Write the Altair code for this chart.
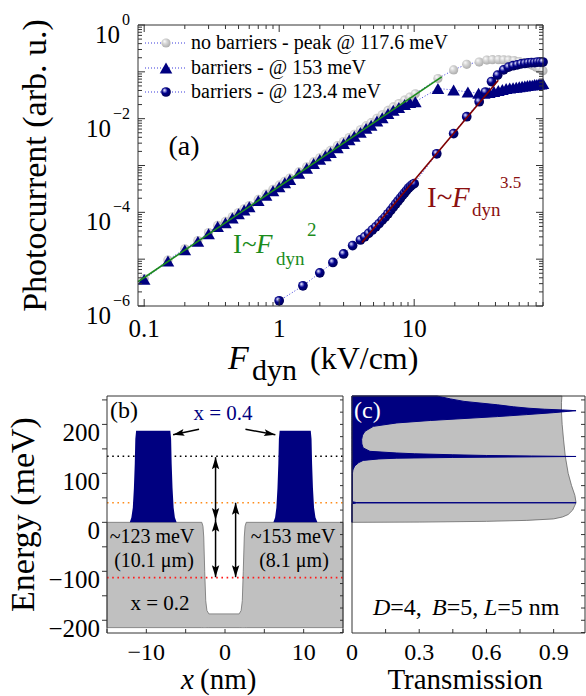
import math
import altair as alt
import pandas as pd

# ---------------- panel (a): photocurrent vs dynamic field ----------------
F_nobar = [0.1, 0.15, 0.2, 0.25, 0.3, 0.35, 0.4, 0.45, 0.5, 0.55, 0.6, 0.7, 0.8, 0.9, 1.0, 1.1, 1.2, 1.4, 1.6, 1.8,
           2.0, 2.2, 2.4, 2.7, 3.0, 3.3, 3.6, 4.0, 4.4, 4.8, 5.3, 5.8, 6.4, 7.0, 7.7, 8.5, 9.3, 10.2,
           15, 19.6, 24.5, 30.3, 34.5, 38, 42, 46, 50, 55, 60, 65, 70, 75, 80, 85, 90]
I_nobar = [3.85e-6, 9.6e-6, 1.67e-5, 2.5e-5, 3.7e-5, 5.25e-5, 6.4e-5, 8.0e-5, 9.9e-5, 1.19e-4, 1.40e-4, 1.89e-4,
           2.45e-4, 3.1e-4, 3.8e-4, 4.6e-4, 5.4e-4, 7.3e-4, 9.4e-4, 1.19e-3, 1.46e-3, 1.76e-3, 2.1e-3, 2.65e-3,
           3.25e-3, 3.95e-3, 4.65e-3, 5.8e-3, 7.0e-3, 8.2e-3, 1.02e-2, 1.21e-2, 1.5e-2, 1.78e-2, 2.1e-2, 2.5e-2,
           2.9e-2, 3.4e-2,
           0.072, 0.11, 0.145, 0.162, 0.178, 0.182, 0.182, 0.18, 0.178, 0.174, 0.166, 0.158, 0.148, 0.138, 0.126,
           0.115, 0.105]

F_b153 = [0.1, 0.15, 0.2, 0.25, 0.3, 0.35, 0.4, 0.45, 0.5, 0.55, 0.6, 0.7, 0.8, 0.9, 1.0, 1.1, 1.2, 1.4, 1.6, 1.8,
          2.0, 2.2, 2.4, 2.7, 3.0, 3.3, 3.6, 4.0, 4.4, 4.8, 5.3, 5.8, 6.4, 7.0, 7.7, 8.5, 9.3, 10.2,
          15, 19.6, 25, 30, 33, 36, 39, 42, 45, 48, 51, 54, 57, 60, 63, 66, 69, 72, 75, 78, 81, 84, 87, 90]
I_b153 = [3.7e-6, 9.1e-6, 1.58e-5, 2.4e-5, 3.5e-5, 5.0e-5, 6.0e-5, 7.6e-5, 9.3e-5, 1.12e-4, 1.32e-4, 1.78e-4, 2.3e-4,
          2.9e-4, 3.5e-4, 4.3e-4, 5.0e-4, 6.8e-4, 8.7e-4, 1.10e-3, 1.35e-3, 1.62e-3, 1.9e-3, 2.4e-3, 2.95e-3, 3.55e-3,
          4.2e-3, 5.1e-3, 6.2e-3, 7.2e-3, 8.9e-3, 1.05e-2, 1.29e-2, 1.51e-2, 1.74e-2, 2.0e-2, 2.2e-2, 2.3e-2,
          4.4e-2, 4.1e-2, 3.7e-2, 3.5e-2, 3.5e-2, 3.6e-2, 3.8e-2, 4.0e-2, 4.2e-2, 4.4e-2, 4.5e-2, 4.6e-2, 4.7e-2,
          4.8e-2, 4.9e-2, 5.0e-2, 5.1e-2, 5.2e-2, 5.2e-2, 5.4e-2, 5.4e-2, 5.5e-2, 5.5e-2, 5.6e-2]

F_b123 = [1.0, 1.5, 2.0, 2.5, 3.0, 3.5, 4.0, 4.3, 4.6, 4.9, 5.2, 5.5, 5.8, 6.1, 6.4, 6.7, 7.0, 7.3, 7.6, 7.9, 8.2,
          8.5, 8.8, 9.1, 9.4, 9.7, 10.0, 14.7, 19.6, 24.5, 30.3, 33.7, 37.4, 41.5, 46, 50, 54, 58, 62, 66, 70, 74,
          78, 82, 86, 90]
I_b123 = [1.29e-6, 2.7e-6, 5.1e-6, 8.5e-6, 1.29e-5, 1.95e-5, 2.57e-5, 3.0e-5, 3.55e-5, 4.2e-5, 4.9e-5, 5.75e-5,
          6.8e-5, 7.9e-5, 9.3e-5, 1.10e-4, 1.29e-4, 1.51e-4, 1.74e-4, 2.0e-4, 2.3e-4, 2.6e-4, 2.95e-4, 3.3e-4,
          3.6e-4, 3.9e-4, 4.1e-4, 1.78e-3, 4.8e-3, 1.10e-2, 2.3e-2, 3.7e-2, 6.2e-2, 8.5e-2, 0.110, 0.126, 0.135,
          0.141, 0.148, 0.151, 0.155, 0.158, 0.158, 0.162, 0.162, 0.162]

fit2_F = [0.09, 16.0]
fit2_I = [3.3e-6, 7.8e-2]
fit35_F = [4.1, 42.0]
fit35_I = [2.28e-5, 6.6e-2]

legend_labels = ["no barriers - peak @ 117.6 meV", "barriers - @ 153 meV", "barriers - @ 123.4 meV"]

xa_major = [0.1, 1, 10]
xa_labels = ["0.1", "1", "10"]
ya_major = [1e-6, 1e-5, 1e-4, 1e-3, 1e-2, 1e-1, 1]
ya_label_vals = [1, 1e-2, 1e-4, 1e-6]
ya_label_exp = ["0", "\u22122", "\u22124", "\u22126"]

# ---------------- panel (b): band profile ----------------
band_x = [-15, -2.95, -2.8, -2.7, -2.58, -2.45, -2.3, -2.05, 1.8, 2.05, 2.2, 2.32, 2.45, 2.55, 2.7, 15]
band_E = [0, 0, -8, -30, -100, -160, -180, -187, -187, -180, -160, -100, -30, -8, 0, 0]
band_floor = -215
barL_x = [-12.1, -11.9, -11.72, -11.58, -11.47, -11.4, -11.3, -6.95, -6.85, -6.78, -6.67, -6.53, -6.37, -6.15]
barR_x = [6.15, 6.37, 6.53, 6.67, 6.78, 6.85, 6.95, 10.9, 11.0, 11.07, 11.18, 11.32, 11.5, 11.75]
bar_E = [0, 10, 30, 70, 120, 170, 187, 187, 170, 120, 70, 30, 10, 0]
level_E = [135, 40, -113]
level_colors = ["#000000", "#ff8c1a", "#ff1a1a"]
varr_x = [-1.2, -1.2, 1.35]
varr_top = [133, 5, 40]
varr_bot = [5, -112, -112]
sarr_tail_x = [-3.3, 2.6]
sarr_tail_E = [190, 190]
sarr_tip_x = [-6.6, 6.4]
sarr_tip_E = [179, 179]
yb_vals = [-200, -100, 0, 100, 200]
yb_labels = ["\u2212200", "\u2212100", "0", "100", "200"]
xb_vals = [-10, 0, 10]
xb_labels = ["\u221210", "0", "10"]

# ---------------- panel (c): transmission ----------------
E_nobar = [0, 0.5, 2, 4, 7, 11, 16, 25, 40, 55, 75, 100, 135, 170, 200, 225, 245, 258]
T_nobar = [0, 0.3, 0.6, 0.78, 0.9, 0.94, 0.965, 0.985, 1.0, 0.995, 0.98, 0.965, 0.952, 0.944, 0.938, 0.935, 0.935, 0.937]
E_bar = [0, 38, 39.6, 40, 40.4, 42, 100, 107, 115, 122, 126.5, 129.5, 131, 132.5, 133.7, 134.5, 135.5, 136.5, 138,
         140, 141.6, 145, 152, 160, 169, 178, 186, 196, 203, 208, 212, 216, 220, 224, 226.5, 228, 229.5, 231, 233,
         236, 240, 247, 252, 258]
T_bar = [0, 0, 0.02, 1.0, 0.02, 0.002, 0.002, 0.004, 0.012, 0.03, 0.05, 0.12, 0.2, 0.45, 0.8, 1.0, 0.8, 0.6, 0.45,
         0.28, 0.2, 0.08, 0.05, 0.044, 0.043, 0.047, 0.058, 0.095, 0.2, 0.35, 0.5, 0.65, 0.78, 0.9, 0.96, 1.0, 0.94,
         0.86, 0.79, 0.72, 0.65, 0.5, 0.44, 0.38]
xc_vals = [0, 0.3, 0.6, 0.9]
xc_labels = ["0", "0.3", "0.6", "0.9"]

# ---------------- layout / style ----------------
A = dict(x0=138, x1=543, y0=25, y1=306)
B = dict(x0=107, x1=343, y0=396, y1=633)
C = dict(x0=352, x1=585, y0=396, y1=633)
XB_DOM = [-15, 15]
E_DOM = [-226, 258]
XC_DOM = [0, 1.04]
FONT = "Liberation Serif, Times New Roman, Tinos, DejaVu Serif, serif"
NAVY = "#000080"
GRAY = "#c0c0c0"
AXC = "#333333"
GREEN = "#1c8c1c"
DRED = "#8b1010"
DOT = "#3a3adc"
BOTTOM_LABEL_Y = 653
BOTTOM_LABEL_SIZE = 24
BOTTOM_TITLE_Y = 689
BOTTOM_TITLE_SIZE = 29

xa = alt.Scale(type="log", domain=[0.09, 90], range=[A["x0"], A["x1"]], nice=False)
ya = alt.Scale(type="log", domain=[1e-6, 1], range=[A["y1"], A["y0"]], nice=False)
xb = alt.Scale(domain=XB_DOM, range=[B["x0"], B["x1"]], nice=False, zero=False)
yb = alt.Scale(domain=E_DOM, range=[B["y1"], B["y0"]], nice=False, zero=False)
xc = alt.Scale(domain=XC_DOM, range=[C["x0"], C["x1"]], nice=False, zero=False)
yc = alt.Scale(domain=E_DOM, range=[C["y1"], C["y0"]], nice=False, zero=False)

ONE = pd.DataFrame({"k": [0]})

grad_gray = {"gradient": "radial", "x1": 0.33, "y1": 0.3, "r1": 0, "x2": 0.45, "y2": 0.45, "r2": 0.62,
             "stops": [{"offset": 0, "color": "#ffffff"}, {"offset": 0.35, "color": "#dadada"},
                       {"offset": 1, "color": "#a6a6a6"}]}
grad_navy = {"gradient": "radial", "x1": 0.33, "y1": 0.3, "r1": 0, "x2": 0.45, "y2": 0.45, "r2": 0.62,
             "stops": [{"offset": 0, "color": "#ffffff"}, {"offset": 0.18, "color": "#9a9ae0"},
                       {"offset": 0.45, "color": "#00008c"}, {"offset": 1, "color": "#00004a"}]}

ARROW_UP = "M0,0L0.4,1.3L0,1.05L-0.4,1.3Z"
ARROW_DN = "M0,0L0.4,-1.3L0,-1.05L-0.4,-1.3Z"


def txt(s, x, y, size=20, color="black", align="left", baseline="alphabetic", style="normal", angle=None):
    kw = dict(text=s, font=FONT, fontSize=size, color=color, align=align, baseline=baseline, fontStyle=style)
    if angle is not None:
        kw["angle"] = angle
    return alt.Chart(ONE).mark_text(**kw).encode(x=alt.value(x), y=alt.value(y))


def border(P):
    return alt.Chart(ONE).mark_rect(color="white", fillOpacity=0, stroke=AXC, strokeWidth=1).encode(
        x=alt.value(P["x0"]), x2=alt.value(P["x1"]), y=alt.value(P["y0"]), y2=alt.value(P["y1"]))


def ticks_x(vals, scale, y_from, y_to):
    return alt.Chart(pd.DataFrame({"v": vals})).mark_rule(color=AXC, strokeWidth=1).encode(
        x=alt.X("v:Q", scale=scale, axis=None), y=alt.value(y_from), y2=alt.value(y_to))


def ticks_y(vals, scale, x_from, x_to):
    return alt.Chart(pd.DataFrame({"v": vals})).mark_rule(color=AXC, strokeWidth=1).encode(
        y=alt.Y("v:Q", scale=scale, axis=None), x=alt.value(x_from), x2=alt.value(x_to))


layers = []

# ======== panel (a) ========
df_g = pd.DataFrame({"F": F_nobar, "I": I_nobar})
df_t = pd.DataFrame({"F": F_b153, "I": I_b153})
df_n = pd.DataFrame({"F": F_b123, "I": I_b123})
XA = alt.X("F:Q", scale=xa, axis=None)
YA = alt.Y("I:Q", scale=ya, axis=None)
for d in (df_g, df_t, df_n):
    layers.append(alt.Chart(d).mark_line(color=DOT, strokeWidth=1, strokeDash=[1, 2]).encode(x=XA, y=YA))
layers.append(alt.Chart(df_g).mark_point(shape="circle", filled=True, size=85, opacity=1, fill=grad_gray,
                                         strokeWidth=0).encode(x=XA, y=YA))
layers.append(alt.Chart(df_t).mark_point(shape="triangle-up", filled=True, size=160, opacity=1, color=NAVY,
                                         strokeWidth=0).encode(x=XA, y=YA))
layers.append(alt.Chart(df_n).mark_point(shape="circle", filled=True, size=95, opacity=1, fill=grad_navy,
                                         strokeWidth=0).encode(x=XA, y=YA))
layers.append(alt.Chart(pd.DataFrame({"F": fit2_F, "I": fit2_I})).mark_line(color=GREEN, strokeWidth=1.6)
              .encode(x=XA, y=YA))
layers.append(alt.Chart(pd.DataFrame({"F": fit35_F, "I": fit35_I})).mark_line(color="#800000", strokeWidth=1.6)
              .encode(x=XA, y=YA))

# legend (a)
leg_y = [43, 68, 92]
for i, lab in enumerate(legend_labels):
    layers.append(alt.Chart(ONE).mark_rule(color=DOT, strokeWidth=1, strokeDash=[1, 2]).encode(
        x=alt.value(145), x2=alt.value(187), y=alt.value(leg_y[i])))
    if i == 0:
        sym = alt.Chart(ONE).mark_point(shape="circle", filled=True, size=85, opacity=1, fill=grad_gray,
                                        strokeWidth=0)
    elif i == 1:
        sym = alt.Chart(ONE).mark_point(shape="triangle-up", filled=True, size=160, opacity=1, color=NAVY,
                                        strokeWidth=0)
    else:
        sym = alt.Chart(ONE).mark_point(shape="circle", filled=True, size=95, opacity=1, fill=grad_navy,
                                        strokeWidth=0)
    layers.append(sym.encode(x=alt.value(166), y=alt.value(leg_y[i])))
    layers.append(txt(lab, 191, leg_y[i], size=20, baseline="middle"))

layers.append(txt("(a)", 184, 147, size=28, align="center", baseline="middle"))

# annotations
layers.append(txt("I~", 233, 253, size=27, color=GREEN))
layers.append(txt("F", 256, 253, size=27, color=GREEN, style="italic"))
layers.append(txt("dyn", 276, 265, size=19, color=GREEN))
layers.append(txt("2", 307, 236, size=19, color=GREEN))
layers.append(txt("I~", 427, 207, size=29, color=DRED))
layers.append(txt("F", 452, 207, size=29, color=DRED, style="italic"))
layers.append(txt("dyn", 472, 216, size=19, color=DRED))
layers.append(txt("3.5", 500, 188, size=17, color=DRED))

# axes (a)
xa_minor = [m * 10.0 ** k for k in (-1, 0, 1) for m in range(2, 10)]
ya_minor = [m * 10.0 ** k for k in range(-6, 0) for m in range(2, 10)]
layers += [
    ticks_x(xa_major, xa, A["y1"], A["y1"] - 7), ticks_x(xa_minor, xa, A["y1"], A["y1"] - 4),
    ticks_x(xa_major, xa, A["y0"], A["y0"] + 7), ticks_x(xa_minor, xa, A["y0"], A["y0"] + 4),
    ticks_y(ya_major, ya, A["x0"], A["x0"] + 7), ticks_y(ya_minor, ya, A["x0"], A["x0"] + 4),
    ticks_y(ya_major, ya, A["x1"], A["x1"] - 7), ticks_y(ya_minor, ya, A["x1"], A["x1"] - 4),
    border(A),
]
layers.append(alt.Chart(pd.DataFrame({"v": xa_major, "t": xa_labels})).mark_text(
    font=FONT, fontSize=25, align="center", baseline="alphabetic").encode(
    x=alt.X("v:Q", scale=xa, axis=None), y=alt.value(337), text="t:N"))
df_yl = pd.DataFrame({"v": ya_label_vals, "e": ya_label_exp})
layers.append(alt.Chart(df_yl.iloc[:1]).mark_text(text="10", font=FONT, fontSize=25, align="right", dy=10)
              .encode(y=alt.Y("v:Q", scale=ya, axis=None), x=alt.value(120)))
layers.append(alt.Chart(df_yl.iloc[1:]).mark_text(text="10", font=FONT, fontSize=25, align="right", dy=10)
              .encode(y=alt.Y("v:Q", scale=ya, axis=None), x=alt.value(111)))
layers.append(alt.Chart(df_yl).mark_text(font=FONT, fontSize=16, align="right", dy=-5)
              .encode(y=alt.Y("v:Q", scale=ya, axis=None), x=alt.value(130), text="e:N"))
layers.append(txt("Photocurrent (arb. u.)", 36, (A["y0"] + A["y1"]) / 2, size=34, align="center",
                  baseline="middle", angle=270))
layers.append(txt("F", 228, 369, size=34, style="italic"))
layers.append(txt("dyn", 252, 380, size=30))
layers.append(txt("(kV/cm)", 310, 369, size=32))

# ======== panel (b) ========
XBX = alt.X("x:Q", scale=xb, axis=None)
layers.append(alt.Chart(pd.DataFrame({"x": band_x, "E": band_E, "f": [band_floor] * len(band_x)}))
              .mark_area(color=GRAY, orient="vertical", stroke="#707070", strokeWidth=0.8, opacity=1)
              .encode(x=XBX, y=alt.Y("E:Q", scale=yb, axis=None), y2="f:Q"))
for Ev, col in zip(level_E, level_colors):
    layers.append(alt.Chart(pd.DataFrame({"E": [Ev]})).mark_rule(color=col, strokeWidth=1.6, strokeDash=[1.6, 3.6])
                  .encode(y=alt.Y("E:Q", scale=yb, axis=None), x=alt.value(B["x0"]), x2=alt.value(B["x1"])))
for bx in (barL_x, barR_x):
    layers.append(alt.Chart(pd.DataFrame({"x": bx, "E": bar_E, "z": [0] * len(bx)}))
                  .mark_area(color=NAVY, orient="vertical", opacity=1)
                  .encode(x=XBX, y=alt.Y("E:Q", scale=yb, axis=None), y2="z:Q"))
df_va = pd.DataFrame({"x": varr_x, "top": varr_top, "bot": varr_bot})
layers.append(alt.Chart(df_va).mark_rule(color="black", strokeWidth=1.5).encode(
    x=XBX, y=alt.Y("top:Q", scale=yb, axis=None), y2="bot:Q"))
layers.append(alt.Chart(df_va).mark_point(shape=ARROW_UP, filled=True, color="black", size=340, opacity=1,
                                          strokeWidth=0).encode(x=XBX, y=alt.Y("top:Q", scale=yb, axis=None)))
layers.append(alt.Chart(df_va).mark_point(shape=ARROW_DN, filled=True, color="black", size=340, opacity=1,
                                          strokeWidth=0).encode(x=XBX, y=alt.Y("bot:Q", scale=yb, axis=None)))


def bpx(x, E):
    px = B["x0"] + (x - XB_DOM[0]) / (XB_DOM[1] - XB_DOM[0]) * (B["x1"] - B["x0"])
    py = B["y1"] - (E - E_DOM[0]) / (E_DOM[1] - E_DOM[0]) * (B["y1"] - B["y0"])
    return px, py


angs = []
for tx, tE, hx, hE in zip(sarr_tail_x, sarr_tail_E, sarr_tip_x, sarr_tip_E):
    p0, p1 = bpx(tx, tE), bpx(hx, hE)
    angs.append(math.degrees(math.atan2(p1[0] - p0[0], -(p1[1] - p0[1]))) % 360)
df_sa = pd.DataFrame({"x": sarr_tail_x, "E": sarr_tail_E, "x2": sarr_tip_x, "E2": sarr_tip_E, "a": angs})
layers.append(alt.Chart(df_sa).mark_rule(color="black", strokeWidth=1.5).encode(
    x=XBX, x2="x2:Q", y=alt.Y("E:Q", scale=yb, axis=None), y2="E2:Q"))
layers.append(alt.Chart(df_sa).mark_point(shape=ARROW_UP, filled=True, color="black", size=300, opacity=1,
                                          strokeWidth=0).encode(
    x=alt.X("x2:Q", scale=xb, axis=None), y=alt.Y("E2:Q", scale=yb, axis=None),
    angle=alt.Angle("a:Q", scale=None)))

layers.append(txt("(b)", 110, 418, size=24))
layers.append(txt("x = 0.4", 223, 420, size=21, color=NAVY, align="center"))
layers.append(txt("~123 meV", 152, 543, size=20, align="center"))
layers.append(txt("(10.1 \u03bcm)", 154, 567, size=20, align="center"))
layers.append(txt("~153 meV", 293, 543, size=20, align="center"))
layers.append(txt("(8.1 \u03bcm)", 294, 567, size=20, align="center"))
layers.append(txt("x = 0.2", 160, 610, size=21, align="center"))

# axes (b)
yb_out = list(range(-200, 251, 50))
yb_in = list(range(-225, 258, 25))
xb_in = [-15, -10, -5, 0, 5, 10, 15]
layers += [
    ticks_y(yb_out, yb, B["x0"] - 5, B["x0"]),
    ticks_y(yb_in, yb, B["x1"], B["x1"] - 3),
    ticks_x(xb_in, xb, B["y1"], B["y1"] - 4),
    border(B),
]
layers.append(alt.Chart(pd.DataFrame({"v": yb_vals, "t": yb_labels})).mark_text(
    font=FONT, fontSize=25, align="right", dy=9).encode(
    y=alt.Y("v:Q", scale=yb, axis=None), x=alt.value(100), text="t:N"))
layers.append(alt.Chart(pd.DataFrame({"v": xb_vals, "t": xb_labels})).mark_text(
    font=FONT, fontSize=BOTTOM_LABEL_SIZE, align="center").encode(
    x=alt.X("v:Q", scale=xb, axis=None), y=alt.value(BOTTOM_LABEL_Y), text="t:N"))
layers.append(txt("Energy (meV)", 24, (B["y0"] + B["y1"]) / 2, size=34, align="center", baseline="middle",
                  angle=270))
layers.append(txt("x", 181, BOTTOM_TITLE_Y, size=BOTTOM_TITLE_SIZE, style="italic"))
layers.append(txt("(nm)", 200, BOTTOM_TITLE_Y, size=BOTTOM_TITLE_SIZE))

# ======== panel (c) ========
layers.append(alt.Chart(pd.DataFrame({"E": E_nobar, "T": T_nobar, "z": [0] * len(E_nobar)}))
              .mark_area(color=GRAY, orient="horizontal", stroke="#666666", strokeWidth=0.8, opacity=1)
              .encode(y=alt.Y("E:Q", scale=yc, axis=None), x=alt.X("T:Q", scale=xc, axis=None), x2="z:Q"))
layers.append(alt.Chart(pd.DataFrame({"E": E_bar, "T": T_bar, "z": [0] * len(E_bar)}))
              .mark_area(color=NAVY, orient="horizontal", stroke=NAVY, strokeWidth=1, opacity=1)
              .encode(y=alt.Y("E:Q", scale=yc, axis=None), x=alt.X("T:Q", scale=xc, axis=None), x2="z:Q"))
layers.append(txt("(c)", 354, 418, size=24, color="white"))
D_pieces = [("D", "italic", 373), ("=4,", "normal", 390.3), ("B", "italic", 432), ("=5,", "normal", 446.7),
            ("L", "italic", 484), ("=5 nm", "normal", 497.3)]
for s, st, px in D_pieces:
    layers.append(txt(s, px, 615, size=24, style=st))
xc_in = [0.15, 0.3, 0.45, 0.6, 0.75, 0.9]
layers += [
    ticks_y(yb_in, yc, C["x1"], C["x1"] - 4),
    ticks_x(xc_in, xc, C["y1"], C["y1"] - 4),
    border(C),
]
layers.append(alt.Chart(pd.DataFrame({"v": xc_vals, "t": xc_labels})).mark_text(
    font=FONT, fontSize=BOTTOM_LABEL_SIZE, align="center").encode(
    x=alt.X("v:Q", scale=xc, axis=None), y=alt.value(BOTTOM_LABEL_Y), text="t:N"))
layers.append(txt("Transmission", 465, BOTTOM_TITLE_Y, size=BOTTOM_TITLE_SIZE, align="center"))

chart = alt.layer(*layers).resolve_scale(x="independent", y="independent").properties(
    width=586, height=696, autosize=alt.AutoSizeParams(type="none"), padding=0
).configure_view(stroke=None)

chart.save("out.html", embed_options={"renderer": "svg", "actions": False})
